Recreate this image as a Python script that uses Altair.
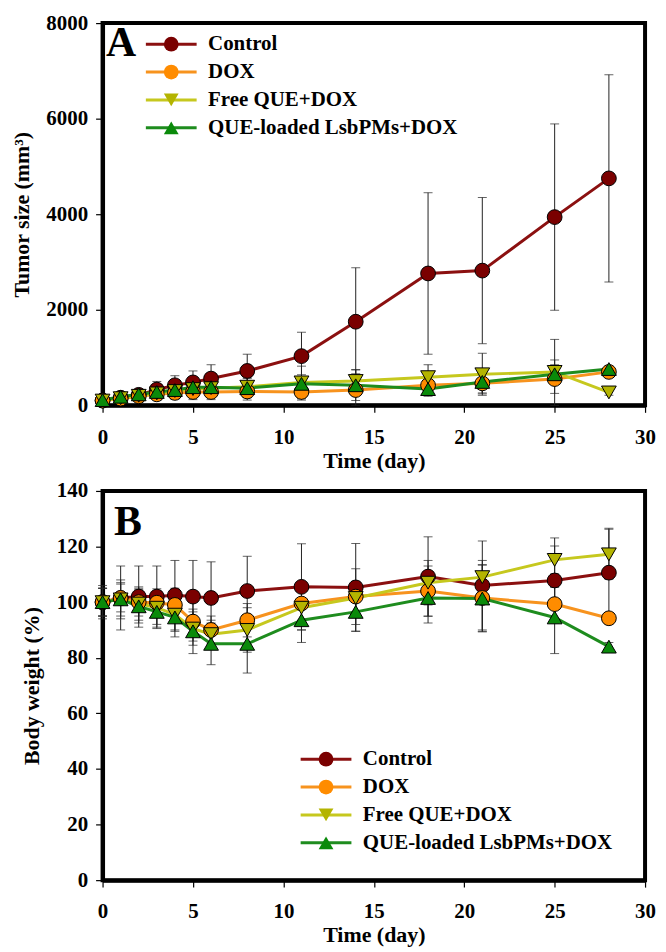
import altair as alt
import pandas as pd

days = [0, 1, 2, 3, 4, 5, 6, 8, 11, 14, 18, 21, 25, 28]
series_names = ["Control", "DOX", "Free QUE+DOX", "QUE-loaded LsbPMs+DOX"]
line_colors = ["#8b1010", "#f7931e", "#c6c81e", "#1e8c1e"]
fill_colors = ["#7a0000", "#ff8c00", "#b4b400", "#0a8a0a"]
shapes = ["circle", "circle", "triangle-down", "triangle-up"]
x_ticks = [0, 5, 10, 15, 20, 25, 30]

# Panel A: tumor size (mm^3)
tumor_control = [100, 160, 220, 330, 420, 480, 560, 720, 1030, 1750, 2760, 2820, 3940, 4750]
tumor_control_err = [40, 60, 80, 170, 200, 240, 290, 350, 500, 1130, 1690, 1530, 1950, 2170]
tumor_dox = [100, 140, 190, 230, 260, 280, 280, 290, 280, 320, 420, 460, 550, 700]
tumor_dox_err = [30, 50, 70, 100, 130, 160, 160, 180, 170, 340, 180, 200, 300, 60]
tumor_free = [100, 150, 200, 250, 300, 340, 360, 390, 480, 510, 590, 650, 700, 270]
tumor_free_err = [30, 50, 70, 110, 140, 170, 190, 200, 340, 240, 260, 440, 250, 60]
tumor_que = [110, 180, 230, 280, 320, 380, 380, 360, 450, 420, 340, 490, 650, 760]
tumor_que_err = [30, 50, 70, 100, 130, 150, 170, 200, 190, 320, 150, 250, 730, 60]
tumor_ticks = [0, 2000, 4000, 6000, 8000]

# Panel B: body weight (%)
bw_control = [100, 101.5, 102, 102, 102.5, 102, 101.5, 104, 105.5, 105.3, 109.2, 106, 107.8, 110.6]
bw_control_err = [6, 11.5, 11, 11, 12.5, 13, 13, 12.5, 15.5, 15.8, 14.3, 16, 15.3, 16]
bw_dox = [100, 101.5, 100, 99.8, 99, 93, 90, 93.5, 99.5, 102, 104, 101.5, 99.3, 94.2]
bw_dox_err = [5, 5, 5, 5, 6, 7, 5, 6, 6, 10, 9, 12, 6, 2]
bw_free = [100, 101, 99.5, 98, 95.5, 90.5, 88.5, 90, 98, 101.5, 107, 109, 115.2, 117.2]
bw_free_err = [5, 6, 6, 6, 6, 6, 5, 8, 8, 6, 8, 6, 5, 9]
bw_que = [100, 101, 98.5, 96.5, 94.5, 89.5, 85, 85, 93.5, 96.5, 101.5, 101.3, 94.5, 84]
bw_que_err = [5, 7, 6, 6, 7, 8, 7.5, 10.5, 8, 7, 9, 12, 13, 1.5]
bw_ticks = [0, 20, 40, 60, 80, 100, 120, 140]

FONT = "Liberation Serif"
PLOT_W = 545


def make_df(vals_list, err_list):
    rows = []
    for name, vals, errs in zip(series_names, vals_list, err_list):
        for d, v, e in zip(days, vals, errs):
            rows.append({"day": d, "value": v, "lo": max(v - e, 0), "hi": v + e,
                         "series": name, "series_pt": name})
    return pd.DataFrame(rows)


def panel(df, ymax, yticks, ytitle, height, letter, letter_x, letter_y,
          leg_line_x, leg_pt_x, leg_y):
    x_enc = alt.X("day:Q", scale=alt.Scale(domain=[0, 30], nice=False, zero=False),
                  axis=alt.Axis(values=x_ticks, title="Time (day)"))
    y_scale = alt.Scale(domain=[0, ymax], nice=False)
    y_axis = alt.Axis(values=yticks, title=ytitle, format="d")
    base = alt.Chart(df)
    bars = base.mark_rule(color="#222222", strokeWidth=1).encode(
        x=x_enc, y=alt.Y("lo:Q", scale=y_scale, axis=y_axis), y2="hi:Q")
    cap_lo = base.mark_tick(orient="horizontal", size=9, thickness=1, color="#222222").encode(
        x=x_enc, y=alt.Y("lo:Q", scale=y_scale, axis=y_axis))
    cap_hi = base.mark_tick(orient="horizontal", size=9, thickness=1, color="#222222").encode(
        x=x_enc, y=alt.Y("hi:Q", scale=y_scale, axis=y_axis))
    lines = base.mark_line(strokeWidth=3).encode(
        x=x_enc, y=alt.Y("value:Q", scale=y_scale, axis=y_axis),
        stroke=alt.Stroke("series:N",
                          scale=alt.Scale(domain=series_names, range=line_colors),
                          legend=alt.Legend(orient="none", legendX=leg_line_x, legendY=leg_y,
                                            title=None, symbolType="stroke", symbolSize=2601,
                                            symbolStrokeWidth=3, labelOffset=10, clipHeight=21,
                                            zindex=0)))
    pt_legend = alt.Legend(orient="none", legendX=leg_pt_x, legendY=leg_y, title=None,
                           symbolSize=220, symbolStrokeColor="black", symbolStrokeWidth=1,
                           symbolOpacity=1, labelExpr="''", clipHeight=21, zindex=1)
    points = base.mark_point(filled=True, size=220, stroke="black", strokeWidth=1, opacity=1).encode(
        x=x_enc, y=alt.Y("value:Q", scale=y_scale, axis=y_axis),
        fill=alt.Fill("series_pt:N", scale=alt.Scale(range=fill_colors), legend=pt_legend),
        shape=alt.Shape("series_pt:N", scale=alt.Scale(range=shapes), legend=pt_legend))
    label = alt.Chart(pd.DataFrame({"t": [letter]})).mark_text(
        font=FONT, fontWeight="bold", fontSize=42, align="left", baseline="alphabetic",
        color="black").encode(text="t:N", x=alt.value(letter_x), y=alt.value(letter_y))
    return alt.layer(bars, cap_lo, cap_hi, lines, points, label).properties(width=PLOT_W, height=height)


df_a = make_df([tumor_control, tumor_dox, tumor_free, tumor_que],
               [tumor_control_err, tumor_dox_err, tumor_free_err, tumor_que_err])
df_b = make_df([bw_control, bw_dox, bw_free, bw_que],
               [bw_control_err, bw_dox_err, bw_free_err, bw_que_err])

chart_a = panel(df_a, 8000, tumor_ticks, "Tumor size (mm³)", 384, "A", 3.5, 33, 42, 58.5, 10.7)
chart_b = panel(df_b, 140, bw_ticks, "Body weight (%)", 391, "B", 11.5, 44.5, 197.5, 214, 259)

chart = alt.vconcat(chart_a, chart_b, spacing=5).resolve_scale(
    stroke="independent", fill="independent", shape="independent"
).resolve_legend(
    stroke="independent", fill="independent", shape="independent"
).properties(
    padding={"left": 0, "top": 0, "right": 0, "bottom": 0}
).configure_view(stroke="black", strokeWidth=4).configure_axis(
    domainColor="black", domainWidth=4, tickColor="black", tickWidth=1.2, tickSize=7,
    labelFont=FONT, labelFontSize=21, labelFontWeight="bold", labelColor="black",
    titleFont=FONT, titleFontSize=22, titleFontWeight="bold", titleColor="black",
    grid=False, labelFlush=False, labelOverlap=False
).configure_axisX(labelPadding=14, titlePadding=3).configure_axisY(
    labelPadding=8, titlePadding=12.5
).configure_legend(
    labelFont=FONT, labelFontSize=21, labelFontWeight="bold", labelColor="black",
    padding=0, rowPadding=6, labelLimit=0
)

chart.save("out.html", embed_options={"renderer": "svg", "actions": False})
